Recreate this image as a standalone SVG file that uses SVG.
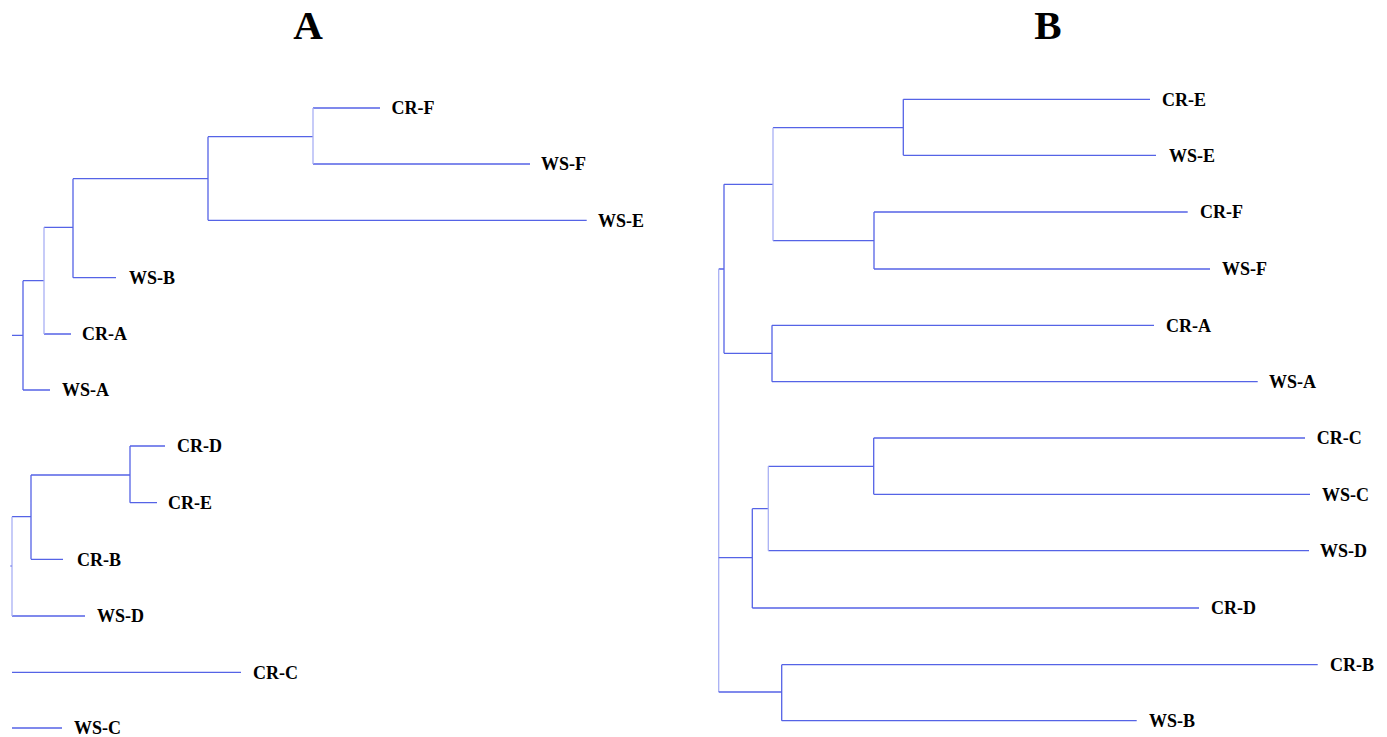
<svg xmlns="http://www.w3.org/2000/svg" width="1387" height="737" viewBox="0 0 1387 737">
<style>
.e{fill:none;stroke:#5563e6;stroke-width:1.3}
.l{fill:none;stroke:#a9b0f4;stroke-width:1.3}
.t{font-family:"Liberation Serif","Times New Roman",serif;font-weight:bold;font-size:18px;fill:#000}
.h{font-family:"Liberation Serif","Times New Roman",serif;font-weight:bold;font-size:41px;fill:#000;text-anchor:middle}
</style>
<rect width="1387" height="737" fill="#fff"/>
<text class="h" x="308" y="39">A</text>
<text class="h" x="1048" y="39">B</text>
<g id="connectors">
<path class="e" d="M12 335.3H23M23 280.7V390M23 390H50M23 280.7H44M44 334H71M44 227.3H73M73 178.7V277.7M73 277.7H116M73 178.7H208M208 136.7V220.3M208 220.3H586.7M208 136.7H313M313 108H380M313 164H530"/>
<path class="l" d="M44 227.3V334M313 108V164"/>
<path class="e" d="M10.5 566H12M12 616H85M12 516.7H31M31 475V559.3M31 559.3H63M31 475H130M130 446V502.7M130 446H165M130 502.7H157M12 672.3H241M12 728H62"/>
<path class="l" d="M12 516.7V616"/>
<path class="e" d="M718.7 269H724M724 184.3V353.3M724 184.3H773M773 127.7H903.3M903.3 99.3V155.3M903.3 99.3H1150M903.3 155.3H1156M773 240.7H874M874 212V269M874 212H1187.7M874 269H1210M724 353.3H772M772 325.3V381.7M772 325.3H1154M772 381.7H1257.7"/>
<path class="l" d="M773 127.7V240.7M718.7 269V692"/>
<path class="e" d="M718.7 557.7H752.3M752.3 508.7V608M752.3 508.7H768.3M768.3 466.3H873.7M873.7 438V494.3M873.7 438H1305M873.7 494.3H1310M768.3 550.7H1309M752.3 608H1199M718.7 692H781.7M781.7 664.7V720.7M781.7 664.7H1317.7M781.7 720.7H1136.7"/>
<path class="l" d="M768.3 466.3V550.7"/>
</g>
<g id="a-cr-f"><text class="t" x="391.5" y="114">CR-F</text></g>
<g id="a-ws-f"><text class="t" x="541" y="170">WS-F</text></g>
<g id="a-ws-e"><text class="t" x="598" y="226.5">WS-E</text></g>
<g id="a-ws-b"><text class="t" x="129" y="284">WS-B</text></g>
<g id="a-cr-a"><text class="t" x="82" y="340">CR-A</text></g>
<g id="a-ws-a"><text class="t" x="62" y="396">WS-A</text></g>
<g id="a-cr-d"><text class="t" x="177" y="452">CR-D</text></g>
<g id="a-cr-e"><text class="t" x="168" y="509">CR-E</text></g>
<g id="a-cr-b"><text class="t" x="77" y="565.5">CR-B</text></g>
<g id="a-ws-d"><text class="t" x="97" y="622">WS-D</text></g>
<g id="a-cr-c"><text class="t" x="253" y="678.5">CR-C</text></g>
<g id="a-ws-c"><text class="t" x="74" y="734">WS-C</text></g>
<g id="b-cr-e"><text class="t" x="1162" y="105.5">CR-E</text></g>
<g id="b-ws-e"><text class="t" x="1169" y="161.5">WS-E</text></g>
<g id="b-cr-f"><text class="t" x="1200" y="218">CR-F</text></g>
<g id="b-ws-f"><text class="t" x="1222" y="275">WS-F</text></g>
<g id="b-cr-a"><text class="t" x="1166" y="331.5">CR-A</text></g>
<g id="b-ws-a"><text class="t" x="1269" y="388">WS-A</text></g>
<g id="b-cr-c"><text class="t" x="1316.7" y="444">CR-C</text></g>
<g id="b-ws-c"><text class="t" x="1322" y="500.5">WS-C</text></g>
<g id="b-ws-d"><text class="t" x="1320" y="557">WS-D</text></g>
<g id="b-cr-d"><text class="t" x="1211" y="614">CR-D</text></g>
<g id="b-cr-b"><text class="t" x="1330" y="671">CR-B</text></g>
<g id="b-ws-b"><text class="t" x="1149" y="727">WS-B</text></g>
</svg>
